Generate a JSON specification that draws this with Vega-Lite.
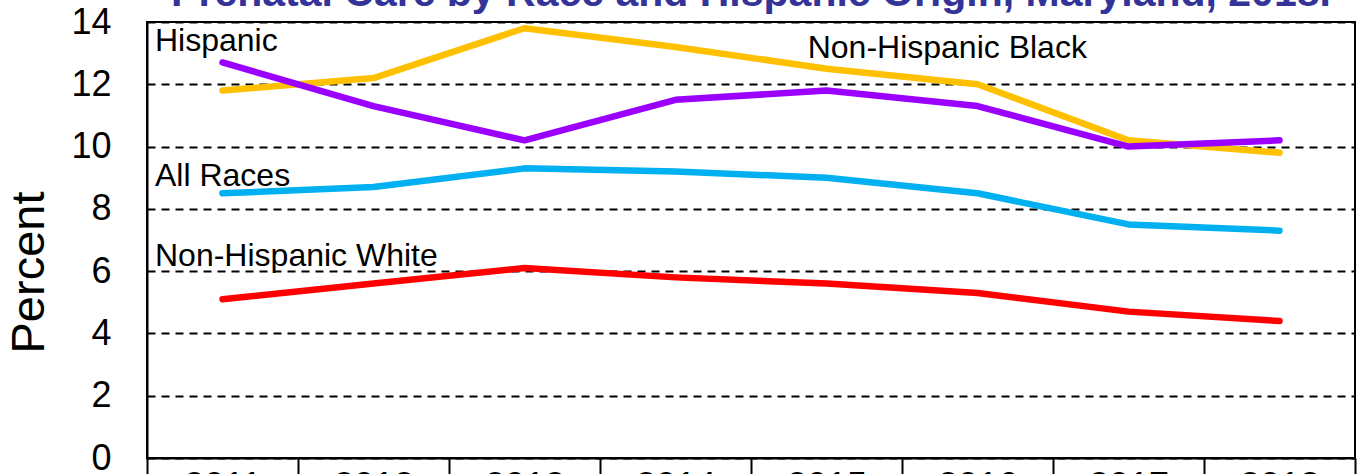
{
  "$schema": "https://vega.github.io/schema/vega-lite/v6.json",
  "width": 1208,
  "height": 436,
  "autosize": {"type": "none"},
  "padding": {"left": 147, "top": 22, "right": 4, "bottom": 16},
  "background": "white",
  "title": {
    "text": "Prenatal Care by Race and Hispanic Origin, Maryland, 2018.",
    "font": "Liberation Sans",
    "fontSize": 41,
    "fontWeight": "bold",
    "color": "#333399",
    "baseline": "alphabetic",
    "offset": -43,
    "anchor": "middle"
  },
  "config": {
    "view": {"stroke": "black", "strokeWidth": 2},
    "font": "Liberation Sans"
  },
  "datasets": {
    "series": [
      {"series": "Non-Hispanic Black", "year": "2011", "value": 11.8},
      {"series": "Non-Hispanic Black", "year": "2012", "value": 12.2},
      {"series": "Non-Hispanic Black", "year": "2013", "value": 13.8},
      {"series": "Non-Hispanic Black", "year": "2014", "value": 13.2},
      {"series": "Non-Hispanic Black", "year": "2015", "value": 12.5},
      {"series": "Non-Hispanic Black", "year": "2016", "value": 12.0},
      {"series": "Non-Hispanic Black", "year": "2017", "value": 10.2},
      {"series": "Non-Hispanic Black", "year": "2018", "value": 9.8},
      {"series": "Hispanic", "year": "2011", "value": 12.7},
      {"series": "Hispanic", "year": "2012", "value": 11.3},
      {"series": "Hispanic", "year": "2013", "value": 10.2},
      {"series": "Hispanic", "year": "2014", "value": 11.5},
      {"series": "Hispanic", "year": "2015", "value": 11.8},
      {"series": "Hispanic", "year": "2016", "value": 11.3},
      {"series": "Hispanic", "year": "2017", "value": 10.0},
      {"series": "Hispanic", "year": "2018", "value": 10.2},
      {"series": "All Races", "year": "2011", "value": 8.5},
      {"series": "All Races", "year": "2012", "value": 8.7},
      {"series": "All Races", "year": "2013", "value": 9.3},
      {"series": "All Races", "year": "2014", "value": 9.2},
      {"series": "All Races", "year": "2015", "value": 9.0},
      {"series": "All Races", "year": "2016", "value": 8.5},
      {"series": "All Races", "year": "2017", "value": 7.5},
      {"series": "All Races", "year": "2018", "value": 7.3},
      {"series": "Non-Hispanic White", "year": "2011", "value": 5.1},
      {"series": "Non-Hispanic White", "year": "2012", "value": 5.6},
      {"series": "Non-Hispanic White", "year": "2013", "value": 6.1},
      {"series": "Non-Hispanic White", "year": "2014", "value": 5.8},
      {"series": "Non-Hispanic White", "year": "2015", "value": 5.6},
      {"series": "Non-Hispanic White", "year": "2016", "value": 5.3},
      {"series": "Non-Hispanic White", "year": "2017", "value": 4.7},
      {"series": "Non-Hispanic White", "year": "2018", "value": 4.4}
    ],
    "labels": [
      {"label": "Hispanic", "year": "2011", "value": 13.4},
      {"label": "All Races", "year": "2011", "value": 9.06},
      {"label": "Non-Hispanic White", "year": "2011", "value": 6.49},
      {"label": "Non-Hispanic Black", "year": "2016", "value": 13.17}
    ]
  },
  "encoding": {
    "x": {
      "field": "year",
      "type": "ordinal",
      "scale": {"type": "band", "paddingInner": 0, "paddingOuter": 0},
      "axis": {
        "title": null,
        "tickBand": "extent",
        "domainColor": "black",
        "domainWidth": 2,
        "tickColor": "black",
        "tickWidth": 2,
        "tickSize": 30,
        "labelFont": "Liberation Sans",
        "labelFontSize": 36,
        "labelColor": "black",
        "labelPadding": -19,
        "labelAngle": 0,
        "grid": false
      }
    },
    "y": {
      "field": "value",
      "type": "quantitative",
      "scale": {"domain": [0, 14], "nice": false, "zero": true},
      "axis": {
        "title": "Percent",
        "titleFont": "Liberation Sans",
        "titleFontSize": 47,
        "titleFontWeight": "normal",
        "titleColor": "black",
        "titleAngle": -90,
        "titleBaseline": "alphabetic",
        "titleAlign": "center",
        "titleX": -104,
        "titleY": 250,
        "values": [0, 2, 4, 6, 8, 10, 12, 14],
        "labelFont": "Liberation Sans",
        "labelFontSize": 36,
        "labelColor": "black",
        "labelPadding": 36,
        "ticks": false,
        "domainColor": "black",
        "domainWidth": 2,
        "grid": true,
        "gridColor": "black",
        "gridWidth": 2,
        "gridDash": [8, 6],
        "gridOpacity": 1
      }
    }
  },
  "layer": [
    {
      "data": {"name": "series"},
      "mark": {"type": "line", "strokeWidth": 6.5, "strokeCap": "round", "strokeJoin": "round"},
      "encoding": {
        "color": {
          "field": "series",
          "type": "nominal",
          "scale": {
            "domain": ["Non-Hispanic Black", "Hispanic", "All Races", "Non-Hispanic White"],
            "range": ["#FFC000", "#9B00FF", "#00B0F0", "#FF0000"]
          },
          "legend": null
        }
      }
    },
    {
      "data": {"name": "labels"},
      "transform": [{"filter": "datum.year == '2011'"}],
      "mark": {"type": "text", "align": "left", "baseline": "middle", "dx": 8, "fontSize": 32, "font": "Liberation Sans", "color": "black"},
      "encoding": {
        "x": {"field": "year", "type": "ordinal", "bandPosition": 0},
        "text": {"field": "label"}
      }
    },
    {
      "data": {"name": "labels"},
      "transform": [{"filter": "datum.year == '2016'"}],
      "mark": {"type": "text", "align": "center", "baseline": "middle", "fontSize": 32, "font": "Liberation Sans", "color": "black"},
      "encoding": {
        "x": {"field": "year", "type": "ordinal", "bandPosition": 0.3},
        "text": {"field": "label"}
      }
    }
  ]
}
